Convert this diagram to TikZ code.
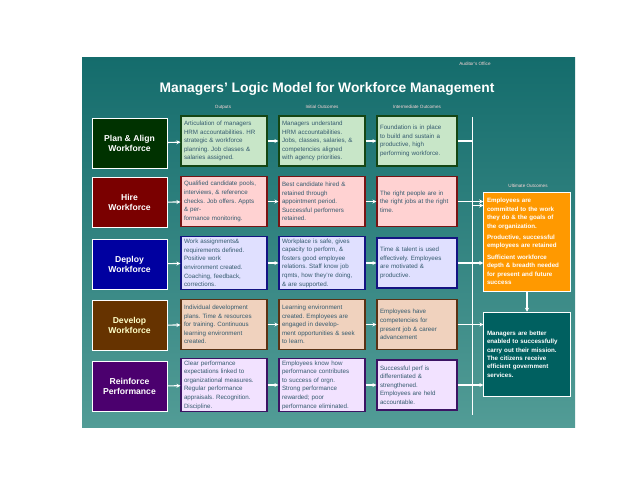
\documentclass[tikz,border=0pt]{standalone}
\usepackage{fontspec}
\setmainfont{Liberation Sans}
\usetikzlibrary{arrows.meta}

\definecolor{bgtop}{RGB}{20,108,108}
\definecolor{bgbot}{RGB}{82,156,150}
\definecolor{boxtext}{RGB}{52,90,110}
\definecolor{ultteal}{RGB}{0,96,96}

\frenchspacing
\begin{document}
\begin{tikzpicture}[x=1pt,y=-1pt]

    \useasboundingbox (0,0) rectangle (640,480);

    % Styles
    \tikzstyle{cat box} = [draw=white!70, line width=0.8, minimum width=75, minimum height=50,
                           text=white, align=center, font=\fontsize{8.6}{10}\selectfont\bfseries];
    \tikzstyle{step box} = [draw, line width=1.1, minimum height=50, inner sep=2.5,
                            text=boxtext, align=left, font=\fontsize{6.2}{8.6}\selectfont];
    \tikzstyle{head} = [text=white!85!red, font=\fontsize{4.6}{5}\selectfont];
    \tikzstyle{link} = [draw=white, line width=1.1, -{Stealth[length=4pt,width=4pt]}];

    % Background
    \shade[top color=bgtop, bottom color=bgbot] (82,57) rectangle (575,427);
    \draw[white!60, line width=0.6] (472,117) -- (472,415);

    % Title and headings
    \node[text=white, font=\fontsize{13.8}{15}\selectfont\bfseries] (title) at (327,89)
        {Managers' Logic Model for Workforce Management};
    \node[head] (office) at (475,64) {Auditor's Office};
    \node[head] (h1) at (223,107) {Outputs};
    \node[head] (h2) at (322,107) {Initial Outcomes};
    \node[head] (h3) at (417,107) {Intermediate Outcomes};
    \node[head] (h4) at (528,186) {Ultimate Outcomes};

    % Row 1
    \node[cat box, fill={rgb,255:red,0;green,50;blue,0}] (cat1) at (129.5,143.5) {Plan \& Align\\Workforce};
    \node[step box, draw={rgb,255:red,20;green,70;blue,20}, fill={rgb,255:red,200;green,230;blue,200},
          minimum width=86, text width=80] (out1) at (224,141)
        {Articulation of managers\\HRM accountabilities. HR\\strategic \& workforce\\planning. Job classes \&\\salaries assigned.};
    \node[step box, draw={rgb,255:red,20;green,70;blue,20}, fill={rgb,255:red,200;green,230;blue,200},
          minimum width=86, text width=80] (ini1) at (322,141)
        {Managers understand\\HRM accountabilities.\\Jobs, classes, salaries, \&\\competencies aligned\\with agency priorities.};
    \node[step box, draw={rgb,255:red,20;green,70;blue,20}, fill={rgb,255:red,200;green,230;blue,200},
          minimum width=80, text width=74] (mid1) at (417,141)
        {Foundation is in place\\to build and sustain a\\productive, high\\performing workforce.};

    % Row 2
    \node[cat box, fill={rgb,255:red,122;green,0;blue,0}] (cat2) at (129.5,202.5) {Hire\\Workforce};
    \node[step box, draw={rgb,255:red,120;green,20;blue,20}, fill={rgb,255:red,255;green,210;blue,210},
          minimum width=86, text width=80] (out2) at (224,201.5)
        {Qualified candidate pools,\\interviews, \& reference\\checks. Job offers. Appts\\\& per-\\formance monitoring.};
    \node[step box, draw={rgb,255:red,120;green,20;blue,20}, fill={rgb,255:red,255;green,210;blue,210},
          minimum width=86, text width=80] (ini2) at (322,201.5)
        {Best candidate hired \&\\retained through\\appointment period.\\Successful performers\\retained.};
    \node[step box, draw={rgb,255:red,120;green,20;blue,20}, fill={rgb,255:red,255;green,210;blue,210},
          minimum width=80, text width=74] (mid2) at (417,201.5)
        {The right people are in\\the right jobs at the right\\time.};

    % Row 3
    \node[cat box, fill={rgb,255:red,0;green,0;blue,160}] (cat3) at (129.5,264) {Deploy\\Workforce};
    \node[step box, draw={rgb,255:red,20;green,20;blue,130}, fill={rgb,255:red,224;green,224;blue,255},
          minimum width=86, text width=80] (out3) at (224,263)
        {Work assignments\&\\requirements defined.\\Positive work\\environment created.\\Coaching, feedback,\\corrections.};
    \node[step box, draw={rgb,255:red,20;green,20;blue,130}, fill={rgb,255:red,224;green,224;blue,255},
          minimum width=86, text width=80] (ini3) at (322,263)
        {Workplace is safe, gives\\capacity to perform, \&\\fosters good employee\\relations. Staff know job\\rqmts, how they're doing,\\\& are supported.};
    \node[step box, draw={rgb,255:red,20;green,20;blue,130}, fill={rgb,255:red,224;green,224;blue,255},
          minimum width=80, text width=74] (mid3) at (417,263)
        {Time \& talent is used\\effectively. Employees\\are motivated \&\\productive.};

    % Row 4
    \node[cat box, fill={rgb,255:red,102;green,51;blue,0}, text={rgb,255:red,255;green,255;blue,200}] (cat4) at (129.5,325.5) {Develop\\Workforce};
    \node[step box, draw={rgb,255:red,90;green,50;blue,20}, fill={rgb,255:red,240;green,210;blue,190},
          minimum width=86, text width=80] (out4) at (224,324.5)
        {Individual development\\plans. Time \& resources\\for training. Continuous\\learning environment\\created.};
    \node[step box, draw={rgb,255:red,90;green,50;blue,20}, fill={rgb,255:red,240;green,210;blue,190},
          minimum width=86, text width=80] (ini4) at (322,324.5)
        {Learning environment\\created. Employees are\\engaged in develop-\\ment opportunities \& seek\\to learn.};
    \node[step box, draw={rgb,255:red,90;green,50;blue,20}, fill={rgb,255:red,240;green,210;blue,190},
          minimum width=80, text width=74] (mid4) at (417,324.5)
        {Employees have\\competencies for\\present job \& career\\advancement};

    % Row 5
    \node[cat box, fill={rgb,255:red,75;green,0;blue,110}] (cat5) at (129.5,386.5) {Reinforce\\Performance};
    \node[step box, draw={rgb,255:red,60;green,20;blue,100}, fill={rgb,255:red,242;green,226;blue,255},
          minimum width=86, text width=80] (out5) at (224,385)
        {Clear performance\\expectations linked to\\organizational measures.\\Regular performance\\appraisals. Recognition.\\Discipline.};
    \node[step box, draw={rgb,255:red,60;green,20;blue,100}, fill={rgb,255:red,242;green,226;blue,255},
          minimum width=86, text width=80] (ini5) at (322,385)
        {Employees know how\\performance contributes\\to success of orgn.\\Strong performance\\rewarded; poor\\performance eliminated.};
    \node[step box, draw={rgb,255:red,60;green,20;blue,100}, fill={rgb,255:red,242;green,226;blue,255},
          minimum width=80, text width=74] (mid5) at (417,385)
        {Successful perf is\\differentiated \&\\strengthened.\\Employees are held\\accountable.};

    % Ultimate outcomes
    \node[draw=white, line width=0.8, fill={rgb,255:red,255;green,153;blue,0}, minimum width=86, minimum height=99,
          text width=80, align=left, text=white, font=\fontsize{6.2}{8.4}\selectfont\bfseries] (ult1) at (527,241.5)
        {Employees are\\committed to the work\\they do \& the goals of\\the organization.\\[3pt]Productive, successful\\employees are retained\\[3pt]Sufficient workforce\\depth \& breadth needed\\for present and future\\success};
    \node[draw=white!50, line width=0.5, fill=ultteal, minimum width=86, minimum height=84,
          text width=80, align=left, text=white, font=\fontsize{6.2}{8.4}\selectfont\bfseries] (ult2) at (527,354)
        {Managers are better\\enabled to successfully\\carry out their mission.\\The citizens receive\\efficient government\\services.};

    % Links
    \foreach \r in {1,...,5} {
        \draw[link] (cat\r) -- (out\r);
        \draw[link] (out\r) -- (ini\r);
        \draw[link] (ini\r) -- (mid\r);
    }
    \draw[link] (mid1.east) -- ++(15,0) |- ([yshift=36pt]ult1.west);
    \draw[link] (mid2.east) -- (mid2.east -| ult1.west);
    \draw[link] (mid3.east) -- (mid3.east -| ult1.west);
    \draw[link] (mid4.east) -- (mid4.east -| ult2.west);
    \draw[link] (mid5.east) -- (mid5.east -| ult2.west);
    \draw[link] (ult1) -- (ult2);

\end{tikzpicture}
\end{document}
